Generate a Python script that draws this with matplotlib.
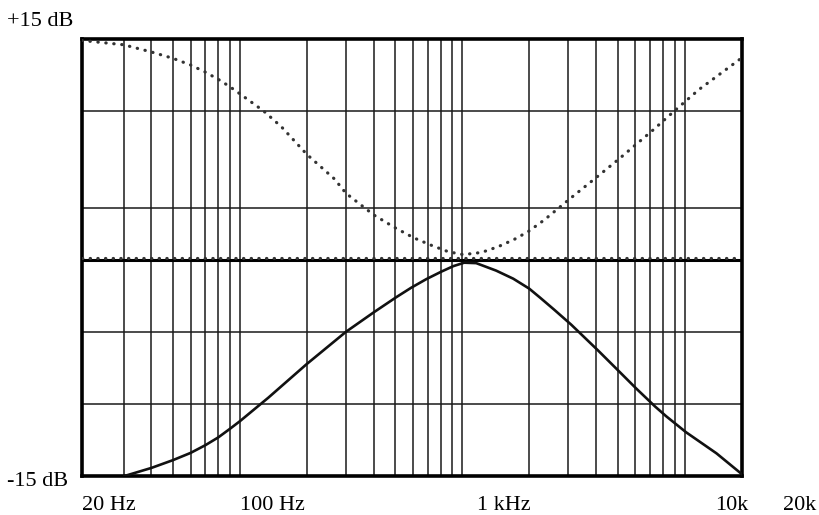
import numpy as np
import matplotlib
matplotlib.use("Agg")
import matplotlib.pyplot as plt
from matplotlib.ticker import NullLocator

# boost curve (dotted), Hz / dB
boost_f = [19.5, 30, 40, 50, 60, 70, 80, 90, 100, 128, 154, 200, 266, 300, 400,
           500, 608, 725, 865, 1010, 1220, 1450, 1710, 1980, 2335, 3090, 4080, 5080,
           5950, 7220, 8970, 11600, 17900]
boost_db = [15.2, 14.9, 14.4, 13.96, 13.5, 13.0, 12.5, 12.0, 11.5, 10.3, 9.2, 7.3,
            5.6, 4.6, 3.1, 2.2, 1.5, 1.0, 0.55, 0.35, 0.5, 0.9, 1.4, 1.95, 2.75, 4.3,
            5.8, 7.0, 7.9, 9.0, 10.3, 11.8, 13.95]

# cut curve (solid)
cut_f = [30.3, 40, 50, 60, 70, 80, 90, 100, 134, 199, 300, 400, 505, 590, 689, 805,
         911, 1020, 1155, 1420, 1695, 2000, 2240, 2590, 3090, 4080, 5080, 6060, 7370,
         8260, 10150, 13900, 18000]
cut_db = [-15, -14.44, -13.9, -13.4, -12.86, -12.32, -11.74, -11.2, -9.58, -7.26,
          -5.0, -3.65, -2.6, -1.94, -1.35, -0.83, -0.45, -0.21, -0.24, -0.76, -1.32,
          -2.01, -2.64, -3.47, -4.51, -6.3, -7.76, -8.94, -10.19, -10.86, -11.97,
          -13.43, -14.85]

# flat response
flat_f = [19.5, 18000]
flat_db = [0.12, 0.12]

grid_f = [30, 40, 50, 60, 70, 80, 90, 100, 200, 300, 400, 500, 600, 700, 800, 900,
          1000, 2000, 3000, 4000, 5000, 6000, 7000, 8000, 9000, 10000]
grid_db = [10.3, 3.6, -5, -10]

x_labels = ["20 Hz", "100 Hz", "1 kHz", "10k", "20k"]
y_labels = ["+15 dB", "-15 dB"]

plt.rcParams['font.family'] = ['Liberation Serif', 'DejaVu Serif']

fig = plt.figure(figsize=(8.2, 5.15), dpi=100)
ax = fig.add_axes([82/820, 1-476/515, 660/820, 437/515])
ax.set_xscale('log')
ax.set_xlim(19.5, 18100)
ax.set_ylim(-15, 15.3)

ax.set_xticks(grid_f)
ax.xaxis.set_minor_locator(NullLocator())
ax.set_yticks(grid_db)
ax.tick_params(length=0, labelbottom=False, labelleft=False)
ax.grid(True, color='#1a1a1a', linewidth=1.1)
ax.axhline(0, color='black', linewidth=2.2, zorder=2)

ax.plot(flat_f, flat_db, color='#333333', linewidth=2.3,
        linestyle=(0, (0.1, 2.3)), dash_capstyle='round', zorder=3)
ax.plot(boost_f, boost_db, color='#333333', linewidth=2.3,
        linestyle=(0, (0.1, 2.4)), dash_capstyle='round', zorder=3)
ax.plot(cut_f, cut_db, color='#111111', linewidth=1.9, zorder=3)

for s in ax.spines.values():
    s.set_linewidth(2.6)
    s.set_color('black')

fig.text(7/820, 1-22/515, y_labels[0], fontsize=16, va='center', ha='left')
fig.text(7/820, 1-482/515, y_labels[1], fontsize=16, va='center', ha='left')

lab_x = [82, 240, 477, 715, 783]
for lx, t in zip(lab_x, x_labels):
    fig.text(lx/820, 1-506/515, t, fontsize=16, va='center', ha='left')

fig.savefig('out.png', dpi=100)
